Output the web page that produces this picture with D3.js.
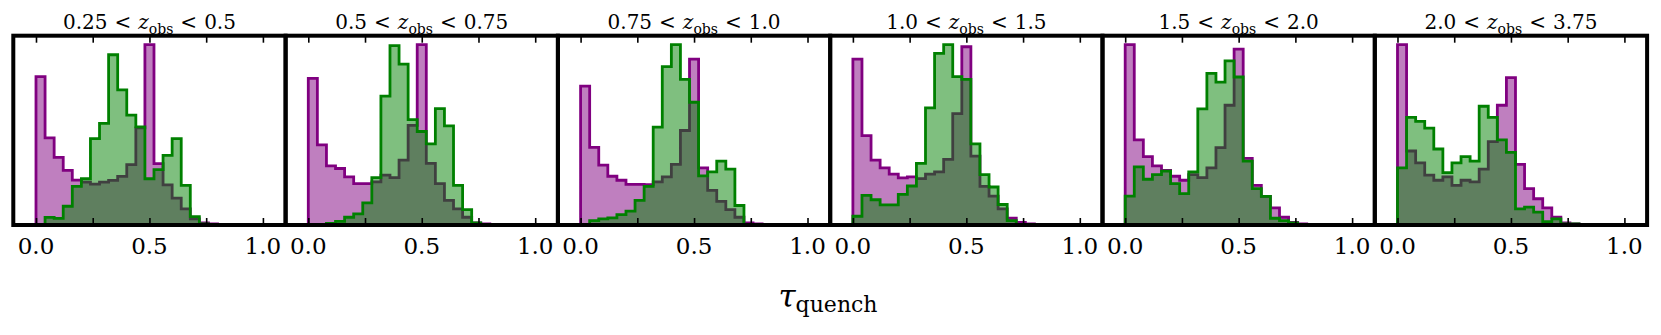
<!DOCTYPE html>
<html><head><meta charset="utf-8">
<script src="https://cdn.jsdelivr.net/npm/d3@7"></script>
<style>html,body{margin:0;padding:0;background:#fff;}svg{display:block;}
svg text{font-family:"DejaVu Serif",serif;}</style>
</head><body>
<script>
// ---------- data ----------
const binWidth = 0.04;           // histogram bin width in tau_quench
const zLow  = ["0.25", "0.5", "0.75", "1.0", "1.5", "2.0"];
const zHigh = ["0.5", "0.75", "1.0", "1.5", "2.0", "3.75"];
const xTicks = [0, 0.25, 0.5, 0.75, 1.0];
const xTickLabels = ["0.0", "", "0.5", "", "1.0"];

const purple1 = [443,260,202,163,134,128,122,128,133,145,180,290,538,183,120,80,48,18,6,3,0,0,0,0,0];
const green1  = [2,23,20,56,115,138,258,303,508,403,328,293,138,165,208,258,118,25,3,0,0,0,0,0,0];
const purple2 = [436,238,176,168,143,123,123,128,148,141,193,296,536,183,123,73,48,23,6,3,2,0,0,0,0];
const green2  = [0,2,5,11,23,33,66,141,383,533,478,313,278,241,346,295,118,46,6,0,0,0,0,0,0];
const purple3 = [413,231,178,145,133,121,121,120,128,143,180,281,493,170,103,70,46,23,6,3,2,0,0,0,0];
const green3  = [0,13,18,21,31,41,73,115,291,471,536,433,365,146,158,190,166,58,0,0,0,0,0,0,0];
const purple4 = [493,266,193,170,151,140,143,138,151,158,195,331,530,205,115,86,48,20,8,3,1,0,0,0,0];
const green4  = [26,88,75,60,60,91,116,183,348,510,536,441,433,241,150,113,61,13,1,0,0,0,0,0,0];
const purple5 = [536,253,203,176,162,145,133,150,141,170,230,356,523,198,118,85,51,23,8,3,1,0,0,0,0];
const green5  = [86,173,136,150,160,123,93,158,345,451,425,488,440,190,108,85,20,13,6,0,0,0,0,0,0];
const purple6 = [536,220,185,148,133,143,118,133,128,166,248,356,438,180,108,78,51,23,6,3,1,0,0,0,0];
const green6  = [170,320,308,288,226,156,185,203,190,353,320,253,216,48,53,38,10,18,3,3,0,0,0,0,0];

const purpleSeries = [purple1, purple2, purple3, purple4, purple5, purple6];
const greenSeries  = [green1, green2, green3, green4, green5, green6];

// ---------- layout ----------
const W = 1661, H = 335;
const left0 = 13.3, panelW = 272.3, plotTop = 35.7, plotBottom = 225;
const panelH = plotBottom - plotTop;
const PURPLE = "#800080", GREEN = "#008000";

const svg = d3.select("body").append("svg").attr("width", W).attr("height", H);

function stepPoints(vals) {
  const pts = [[0, 0]];
  vals.forEach((v, k) => { pts.push([k * binWidth, v]); pts.push([(k + 1) * binWidth, v]); });
  pts.push([vals.length * binWidth, 0]);
  return pts;
}

purpleSeries.forEach((pv, i) => {
  const gv = greenSeries[i];
  const g = svg.append("g").attr("transform", `translate(${left0 + i * panelW},${plotTop})`);
  const x = d3.scaleLinear().domain([-0.1, 1.1]).range([0, panelW]);
  const ymax = d3.max(pv.concat(gv)) * 1.05;
  const y = d3.scaleLinear().domain([0, ymax]).range([panelH, 0]);
  const line = d3.line().x(d => x(d[0])).y(d => y(d[1]));

  [[pv, PURPLE], [gv, GREEN]].forEach(([vals, col]) => {
    const pts = stepPoints(vals);
    g.append("path").attr("d", line(pts) + "Z").attr("fill", col).attr("fill-opacity", 0.5).attr("stroke", "none");
    g.append("path").attr("d", line(pts)).attr("fill", "none").attr("stroke", col)
      .attr("stroke-width", 2.8).attr("stroke-linejoin", "miter");
  });

  // ticks (inward, top and bottom)
  const axB = d3.axisBottom(x).tickValues(xTicks).tickSize(-7).tickFormat("");
  const axT = d3.axisTop(x).tickValues(xTicks).tickSize(-7).tickFormat("");
  const gb = g.append("g").attr("transform", `translate(0,${panelH})`).call(axB);
  const gt = g.append("g").call(axT);
  [gb, gt].forEach(a => {
    a.select(".domain").remove();
    a.selectAll("line").attr("stroke", "#000").attr("stroke-width", 1.6);
  });
  // tick labels
  g.selectAll("text.tl").data(xTicks).enter().append("text").attr("class", "tl")
    .attr("x", d => x(d)).attr("y", 254 - plotTop).attr("text-anchor", "middle")
    .attr("font-size", 23).attr("fill", "#000")
    .text((d, k) => xTickLabels[k]);

  // frame
  g.append("rect").attr("x", 0).attr("y", 0).attr("width", panelW).attr("height", panelH)
    .attr("fill", "none").attr("stroke", "#000").attr("stroke-width", 4);

  // title
  const t = svg.append("text").attr("x", left0 + i * panelW + panelW / 2).attr("y", 29)
    .attr("text-anchor", "middle").attr("font-size", 20).attr("fill", "#000");
  t.append("tspan").text(zLow[i]);
  t.append("tspan").attr("dx", "0.35em").text("<");
  t.append("tspan").attr("dx", "0.35em").attr("font-style", "italic").text("z");
  t.append("tspan").attr("font-size", 14).attr("dy", 5).text("obs");
  t.append("tspan").attr("dx", "0.35em").attr("dy", -5).text("<");
  t.append("tspan").attr("dx", "0.35em").text(zHigh[i]);
});

// x-axis label
const xl = svg.append("text").attr("x", 828).attr("y", 307).attr("text-anchor", "middle")
  .attr("font-size", 31).attr("fill", "#000");
xl.append("tspan").attr("font-style", "italic").text("τ");
xl.append("tspan").attr("font-size", 22).attr("dy", 5).text("quench");
</script>
</body></html>
